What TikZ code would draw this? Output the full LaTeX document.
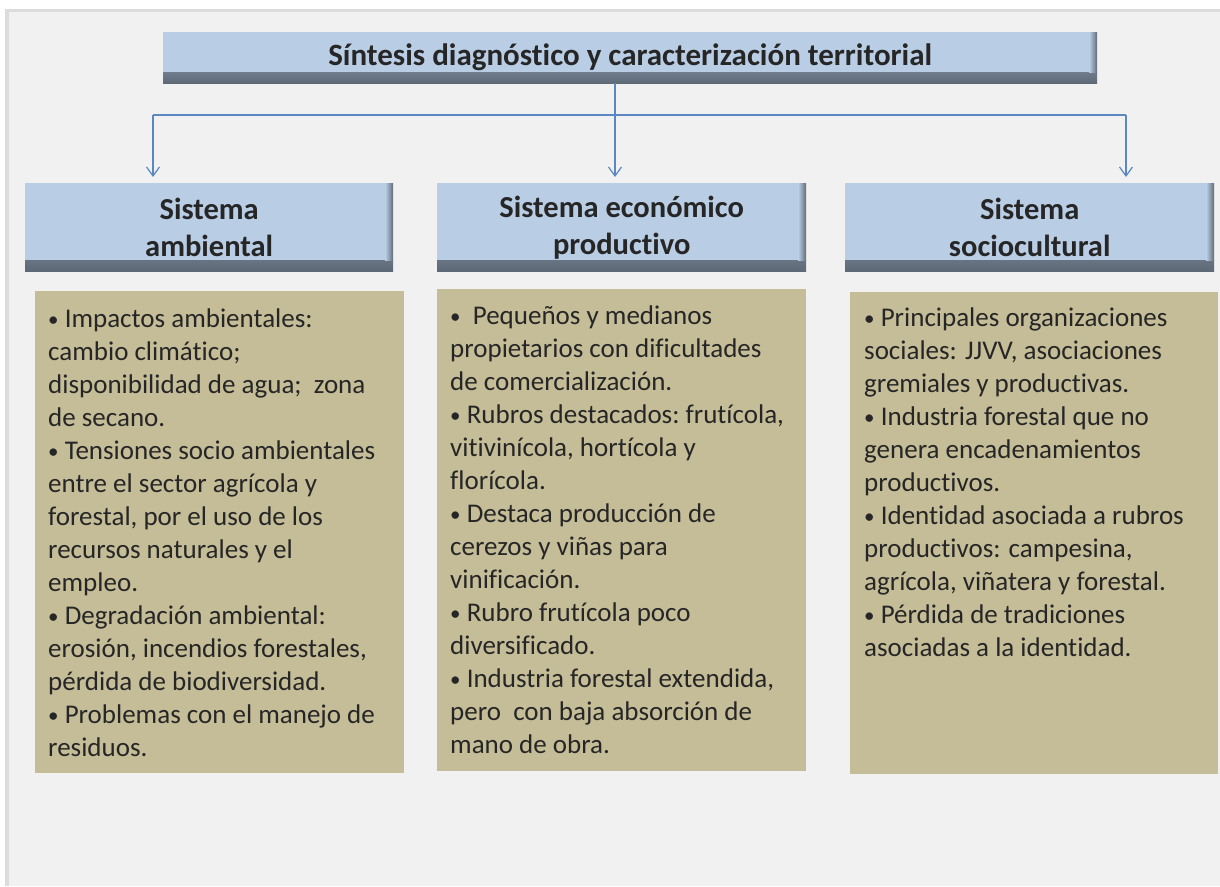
\documentclass[tikz,border=0pt]{standalone}
\usepackage{fontspec}
\setmainfont{Carlito}[Ligatures = NoCommon]
\usetikzlibrary{positioning}
\usetikzlibrary{arrows.meta}
\definecolor{hdrblue}{HTML}{B9CDE5}
\definecolor{hdrshade}{HTML}{5E6977}
\definecolor{tanbox}{HTML}{C4BD97}
\definecolor{panel}{HTML}{F1F1F1}
\definecolor{frame}{HTML}{DCDCDC}
\definecolor{linkblue}{HTML}{5B88C3}
\definecolor{ink}{HTML}{262626}
\newcommand{\pnt}{{\fontsize{21}{33}\selectfont\raisebox{1.5pt}{•}}}

\begin{document}
\begin{tikzpicture}[x = 1pt, y = -1pt,
	hdr/.style = {rectangle, fill = hdrblue, inner sep = 0pt, anchor = north west, text = ink, align = center,
		font = \bfseries\fontsize{30.5}{37}\selectfont,
		path picture = {
			\shade [top color = hdrblue, bottom color = hdrshade, middle color = hdrblue!45!hdrshade] ([yshift = 11pt] path picture bounding box.south west) rectangle (path picture bounding box.south east);
			\shade [left color = hdrblue, right color = hdrshade] ([xshift = -8pt] path picture bounding box.north east) rectangle ([yshift = 11pt] path picture bounding box.south east);
		}},
	tanbox/.style = {rectangle, fill = tanbox, inner sep = 0pt, anchor = north west},
	txt/.style = {inner sep = 0pt, anchor = north west, align = left, text = ink, font = \fontsize{27}{33}\selectfont},
	link/.style = {linkblue, line width = 1.2pt},
	tip/.style = {link, -{Straight Barb[length = 9pt, width = 13pt, line width = 1.2pt]}, shorten > = 6pt}]
	\useasboundingbox (0, 0) rectangle (1220, 886);
	\fill [white] (0, 0) rectangle (1220, 886);
	\fill [frame] (5, 9) rectangle (1220, 886);
	\fill [panel] (9, 12) rectangle (1220, 886);

	\node (title) at (163, 32) [hdr, minimum width = 934pt, minimum height = 51pt, font = \bfseries\fontsize{31}{37}\selectfont] {Síntesis diagnóstico y caracterización territorial};

	\node (hdrAmb) at (25, 183) [hdr, minimum width = 368pt, minimum height = 88pt] {Sistema\\ambiental};
	\node (hdrEco) at (437, 183) [hdr, minimum width = 369pt, minimum height = 88pt] {Sistema económico\\productivo};
	\node (hdrSoc) at (845, 183) [hdr, minimum width = 369pt, minimum height = 88pt] {Sistema\\sociocultural};

	\coordinate (forkL) at (153, 115);
	\coordinate (forkM) at (615, 115);
	\coordinate (forkR) at (1126, 115);
	\draw [link] (forkL) -- (forkR);
	\draw [tip] (title.south -| forkM) -- (hdrEco.north -| forkM);
	\draw [tip] (forkL) -- (hdrAmb.north -| forkL);
	\draw [tip] (forkR) -- (hdrSoc.north -| forkR);

	\node (boxAmb) at (35, 291) [tanbox, minimum width = 369pt, minimum height = 482pt] {};
	\node (boxEco) at (437, 289) [tanbox, minimum width = 369pt, minimum height = 482pt] {};
	\node (boxSoc) at (850, 292) [tanbox, minimum width = 368pt, minimum height = 482pt] {};

	\node (txtAmb) at (48, 309) [txt] {\pnt\ Impactos ambientales:\\cambio climático;\\disponibilidad de agua;\ \ zona\\de secano.\\\pnt\ Tensiones socio ambientales\\entre el sector agrícola y\\forestal, por el uso de los\\recursos naturales y el\\empleo.\\\pnt\ Degradación ambiental:\\erosión, incendios forestales,\\pérdida de biodiversidad.\\\pnt\ Problemas con el manejo de\\residuos.};
	\node (txtEco) at (450, 306) [txt] {\pnt\ \ Pequeños y medianos\\propietarios con dificultades\\de comercialización.\\\pnt\ Rubros destacados:\ frutícola,\\vitivinícola, hortícola y\\florícola.\\\pnt\ Destaca producción de\\cerezos y viñas para\\vinificación.\\\pnt\ Rubro frutícola poco\\diversificado.\\\pnt\ Industria forestal extendida,\\pero\ \ con baja absorción de\\mano de obra.};
	\node (txtSoc) at (864, 308) [txt] {\pnt\ Principales organizaciones\\sociales: JJVV, asociaciones\\gremiales y productivas.\\\pnt\ Industria forestal que no\\genera encadenamientos\\productivos.\\\pnt\ Identidad asociada a rubros\\productivos: campesina,\\agrícola, viñatera y forestal.\\\pnt\ Pérdida de tradiciones\\asociadas a la identidad.};
\end{tikzpicture}
\end{document}
